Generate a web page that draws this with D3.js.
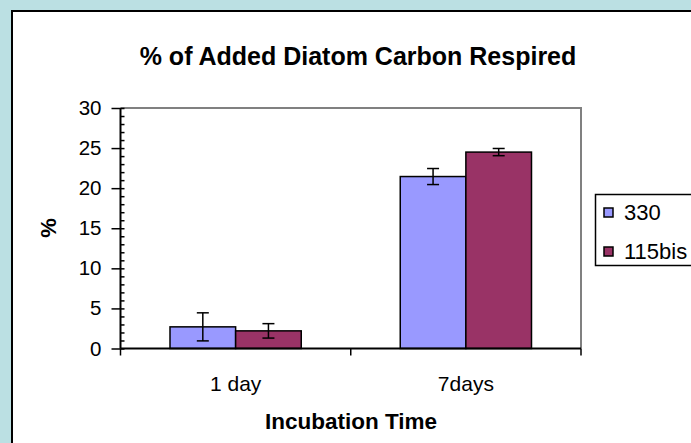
<!DOCTYPE html>
<html>
<head>
<meta charset="utf-8">
<script src="https://cdn.jsdelivr.net/npm/d3@7"></script>
<style>
  html, body { margin: 0; padding: 0; background: #bbe0e3; overflow: hidden; }
  svg { display: block; font-family: Arial, "Liberation Sans", sans-serif; }
</style>
</head>
<body>
<div id="chart"></div>
<script>
// data
const categories = ["1 day", "7days"];
const seriesNames = ["330", "115bis"];
const seriesColors = ["#9999ff", "#993366"];
const values330 = [2.7, 21.45];
const values115bis = [2.2, 24.5];
const errors330 = [1.75, 1.0];
const errors115bis = [0.9, 0.45];
const yTicks = [0, 5, 10, 15, 20, 25, 30];

const width = 691;
const height = 443;
const plot = { left: 120.5, right: 581, top: 108, bottom: 348.5 };

const svg = d3.select('#chart')
    .append('svg')
    .attr('width', width)
    .attr('height', height);

// background + white chart panel
svg.append('rect')
    .attr('width', width).attr('height', height)
    .attr('fill', '#bbe0e3');
svg.append('rect')
    .attr('x', 12).attr('y', 11)
    .attr('width', width + 20).attr('height', height + 20)
    .attr('fill', '#fff')
    .attr('stroke', '#000')
    .attr('stroke-width', 2);

// scales
const xScale = d3.scaleBand()
    .domain(categories)
    .range([plot.left, plot.right])
    .paddingInner(0.43)
    .paddingOuter(0.215);

const xSeries = d3.scaleBand()
    .domain(seriesNames)
    .range([0, xScale.bandwidth()]);

const yScale = d3.scaleLinear()
    .domain([0, 30])
    .range([plot.bottom, plot.top]);

// plot area border (top + right gray)
svg.append('path')
    .attr('d', `M${plot.left},${plot.top}H${plot.right}V${plot.bottom}`)
    .attr('fill', 'none')
    .attr('stroke', '#808080')
    .attr('stroke-width', 2);

// bars
const rows = categories.map((c, i) => ({
    category: c,
    items: [
        { name: seriesNames[0], value: values330[i], err: errors330[i], color: seriesColors[0] },
        { name: seriesNames[1], value: values115bis[i], err: errors115bis[i], color: seriesColors[1] }
    ]
}));

const groups = svg.selectAll('.group')
    .data(rows)
    .enter()
    .append('g')
    .attr('transform', d => `translate(${xScale(d.category)},0)`);

groups.selectAll('rect')
    .data(d => d.items)
    .enter()
    .append('rect')
    .attr('x', d => xSeries(d.name))
    .attr('y', d => yScale(d.value))
    .attr('width', xSeries.bandwidth())
    .attr('height', d => yScale(0) - yScale(d.value))
    .attr('fill', d => d.color)
    .attr('stroke', '#000')
    .attr('stroke-width', 1.5);

// error bars
const errG = groups.selectAll('.err')
    .data(d => d.items)
    .enter()
    .append('g')
    .attr('stroke', '#000')
    .attr('stroke-width', 1.5);
const cx = d => xSeries(d.name) + xSeries.bandwidth() / 2;
errG.append('line')
    .attr('x1', cx).attr('x2', cx)
    .attr('y1', d => yScale(d.value + d.err))
    .attr('y2', d => yScale(d.value - d.err));
errG.append('line')
    .attr('x1', d => cx(d) - 6).attr('x2', d => cx(d) + 6)
    .attr('y1', d => yScale(d.value + d.err))
    .attr('y2', d => yScale(d.value + d.err));
errG.append('line')
    .attr('x1', d => cx(d) - 6).attr('x2', d => cx(d) + 6)
    .attr('y1', d => yScale(d.value - d.err))
    .attr('y2', d => yScale(d.value - d.err));

// Y axis: minor ticks inside, major ticks crossing
const yAxis = svg.append('g')
    .attr('transform', `translate(${plot.left},0)`);
yAxis.call(d3.axisRight(yScale).ticks(30).tickSize(4).tickFormat(''))
    .call(g => g.select('.domain').remove());
yAxis.append('g')
    .call(d3.axisLeft(yScale).tickValues(yTicks).tickSize(9).tickPadding(10))
    .call(g => g.select('.domain').remove())
    .selectAll('text')
    .style('font-size', '20.5px')
    .attr('fill', '#000');
yAxis.selectAll('line').attr('stroke', '#000').attr('stroke-width', 1.5);
yAxis.append('line')
    .attr('y1', plot.top).attr('y2', plot.bottom)
    .attr('stroke', '#000').attr('stroke-width', 2);

// X axis
const xAxis = svg.append('g')
    .attr('transform', `translate(0,${plot.bottom})`);
xAxis.append('line')
    .attr('x1', plot.left).attr('x2', plot.right)
    .attr('stroke', '#000').attr('stroke-width', 2);
const boundaries = [plot.left].concat(categories.map(c => xScale(c) + xScale.bandwidth() + xScale.step() * xScale.paddingInner() / 2));
boundaries[boundaries.length - 1] = plot.right;
xAxis.selectAll('.tick')
    .data(boundaries)
    .enter()
    .append('line')
    .attr('x1', d => d).attr('x2', d => d)
    .attr('y1', 0).attr('y2', 7)
    .attr('stroke', '#000').attr('stroke-width', 1.5);
xAxis.selectAll('.lbl')
    .data(categories)
    .enter()
    .append('text')
    .attr('x', d => xScale(d) + xScale.bandwidth() / 2)
    .attr('y', 42.5)
    .attr('text-anchor', 'middle')
    .style('font-size', '21px')
    .text(d => d);

// titles
svg.append('text')
    .attr('x', 358).attr('y', 65)
    .attr('text-anchor', 'middle')
    .style('font-size', '25px')
    .style('font-weight', 'bold')
    .text('% of Added Diatom Carbon Respired');

svg.append('text')
    .attr('x', 351).attr('y', 429)
    .attr('text-anchor', 'middle')
    .style('font-size', '22.5px')
    .style('font-weight', 'bold')
    .text('Incubation Time');

svg.append('text')
    .attr('transform', 'translate(56,228) rotate(-90)')
    .attr('text-anchor', 'middle')
    .style('font-size', '22px')
    .style('font-weight', 'bold')
    .text('%');

// legend
const legend = svg.append('g');
legend.append('rect')
    .attr('x', 595.5).attr('y', 194.5)
    .attr('width', 120).attr('height', 71)
    .attr('fill', '#fff')
    .attr('stroke', '#000')
    .attr('stroke-width', 1.5);
const li = legend.selectAll('.item')
    .data(seriesNames)
    .enter()
    .append('g')
    .attr('transform', (d, i) => `translate(604,${208 + i * 39})`);
li.append('rect')
    .attr('width', 9).attr('height', 9)
    .attr('fill', (d, i) => seriesColors[i])
    .attr('stroke', '#000')
    .attr('stroke-width', 1.5);
li.append('text')
    .attr('x', 20).attr('y', 4.5)
    .attr('dy', '0.35em')
    .style('font-size', '22px')
    .text(d => d);
</script>
</body>
</html>
